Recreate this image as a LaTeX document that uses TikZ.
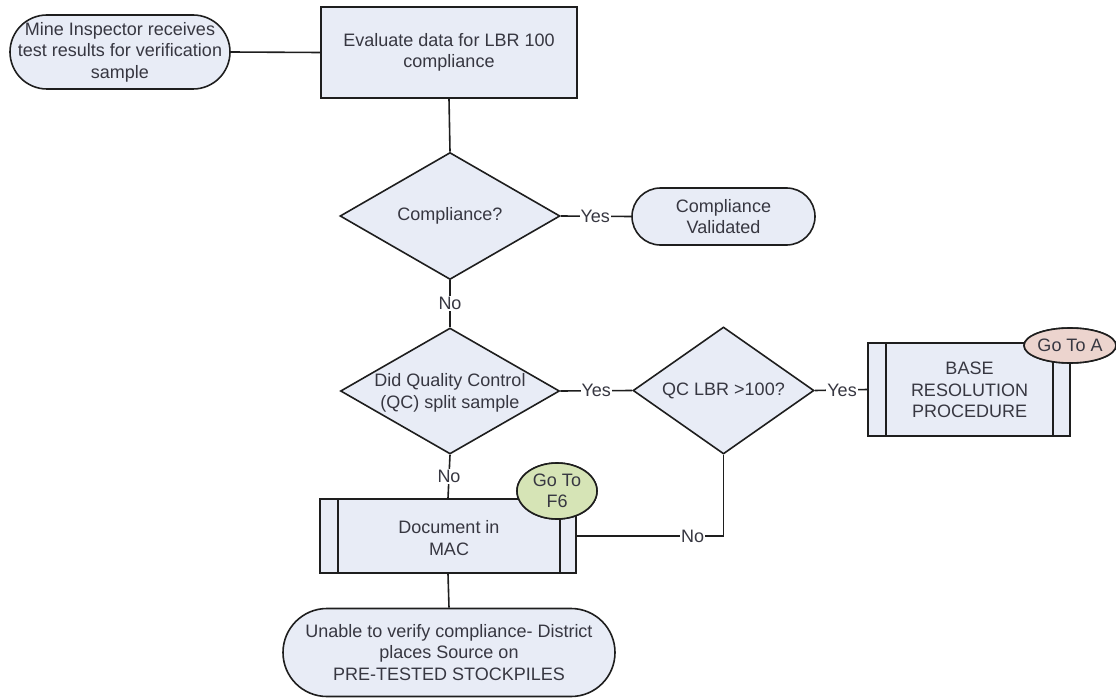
\documentclass[tikz,border=0pt]{standalone}
\usepackage{fontspec}
\setmainfont{Liberation Sans}
\usetikzlibrary{shapes.geometric}
\definecolor{boxfill}{RGB}{232,236,246}
\definecolor{inkline}{RGB}{30,30,30}
\definecolor{inktext}{RGB}{55,55,65}
\definecolor{gofillA}{RGB}{236,212,206}
\definecolor{gofillF}{RGB}{214,228,182}
\tikzset{
  base font/.style={font=\fontsize{18}{21.5}\selectfont, text=inktext, align=center},
  shapeline/.style={draw=inkline, line width=1.6pt, fill=boxfill},
  terminal/.style={shapeline, base font, rectangle, inner sep=0pt},
  procbox/.style={shapeline, base font, rectangle, inner sep=0pt},
  decision/.style={shapeline, diamond, inner sep=0pt},
  dectext/.style={base font, inner sep=0pt},
  goto/.style={draw=inkline, line width=1.6pt, ellipse, inner sep=0pt, base font},
  conn/.style={draw=inkline, line width=1.6pt},
  lbl/.style={base font, fill=white, inner sep=1pt},
}
\begin{document}
\begin{tikzpicture}[x=1pt, y=-1pt]
\useasboundingbox (0,0) rectangle (1116,698);

% start terminal
\node[terminal, minimum width=220pt, minimum height=74pt, rounded corners=37pt]
  (start) at (120,52) {Mine Inspector receives\\test results for verification\\sample};

% evaluation step
\node[procbox, minimum width=256pt, minimum height=91pt]
  (eval) at (449,52.5) {Evaluate data for LBR 100\\compliance};

% first decision
\node[decision, minimum width=220pt, minimum height=127pt] (d1) at (450,216) {};
\node[dectext] (d1t) at (d1) {Compliance?};

% validated terminal
\node[terminal, minimum width=183pt, minimum height=57pt, rounded corners=28.5pt]
  (cv) at (723.5,216.5) {Compliance\\Validated};

% second decision
\node[decision, minimum width=219pt, minimum height=126pt] (d2) at (450,391) {};
\node[dectext] (d2t) at (450,393) {Did Quality Control\\(QC) split sample};

% third decision
\node[decision, minimum width=181pt, minimum height=127pt] (d3) at (723.5,390.5) {};
\node[dectext] (d3t) at (d3) {QC LBR >100?};

% predefined process: base resolution
\node[procbox, minimum width=202pt, minimum height=93pt] (base) at (969,389.5) {};
\node[dectext] (baset) at (969.5,390) {BASE\\RESOLUTION\\PROCEDURE};
\draw[conn] ([xshift=19pt]base.north west) -- ([xshift=19pt]base.south west);
\draw[conn] ([xshift=-18pt]base.north east) -- ([xshift=-18pt]base.south east);
\node[goto, fill=gofillA, minimum width=78pt, minimum height=35pt] (goA) at (1070,345.5) {Go To A};

% predefined process: document in MAC
\node[procbox, minimum width=256pt, minimum height=74pt] (doc) at (448,536) {};
\node[dectext] (doct) at (449,538) {Document in\\MAC};
\draw[conn] ([xshift=19pt]doc.north west) -- ([xshift=19pt]doc.south west);
\draw[conn] ([xshift=-17pt]doc.north east) -- ([xshift=-17pt]doc.south east);
\node[goto, fill=gofillF, minimum width=80pt, minimum height=56pt] (goF) at (557,491) {Go To\\F6};

% end terminal
\node[terminal, minimum width=332pt, minimum height=88pt, rounded corners=44pt]
  (end) at (449,652.5) {Unable to verify compliance- District\\places Source on\\PRE-TESTED STOCKPILES};

% connectors
\draw[conn] (start.east) -- (eval.west);
\draw[conn] (eval.south) -- (d1.north);
\draw[conn] (d1.east) -- node[lbl, pos=0.49] {Yes} (cv.west);
\draw[conn] (d1.south) -- node[lbl] {No} (d2.north);
\draw[conn] (d2.east) -- node[lbl, pos=0.5] {Yes} (d3.west);
\draw[conn] (d3.east) -- node[lbl, pos=0.52] {Yes} (base.west);
\draw[conn] (d2.south) -- node[lbl] {No} (doc.north);
\coordinate (bend) at (doc.east -| d3.south);
\draw[conn] (doc.east) -- node[lbl, pos=0.79] {No} (bend) -- (d3.south);
\draw[conn] (doc.south) -- (end.north);

% badges drawn over the box corners
\node[goto, fill=gofillA, minimum width=78pt, minimum height=35pt] at (goA) {Go To A};
\node[goto, fill=gofillF, minimum width=80pt, minimum height=56pt] at (goF) {Go To\\F6};
\end{tikzpicture}
\end{document}
